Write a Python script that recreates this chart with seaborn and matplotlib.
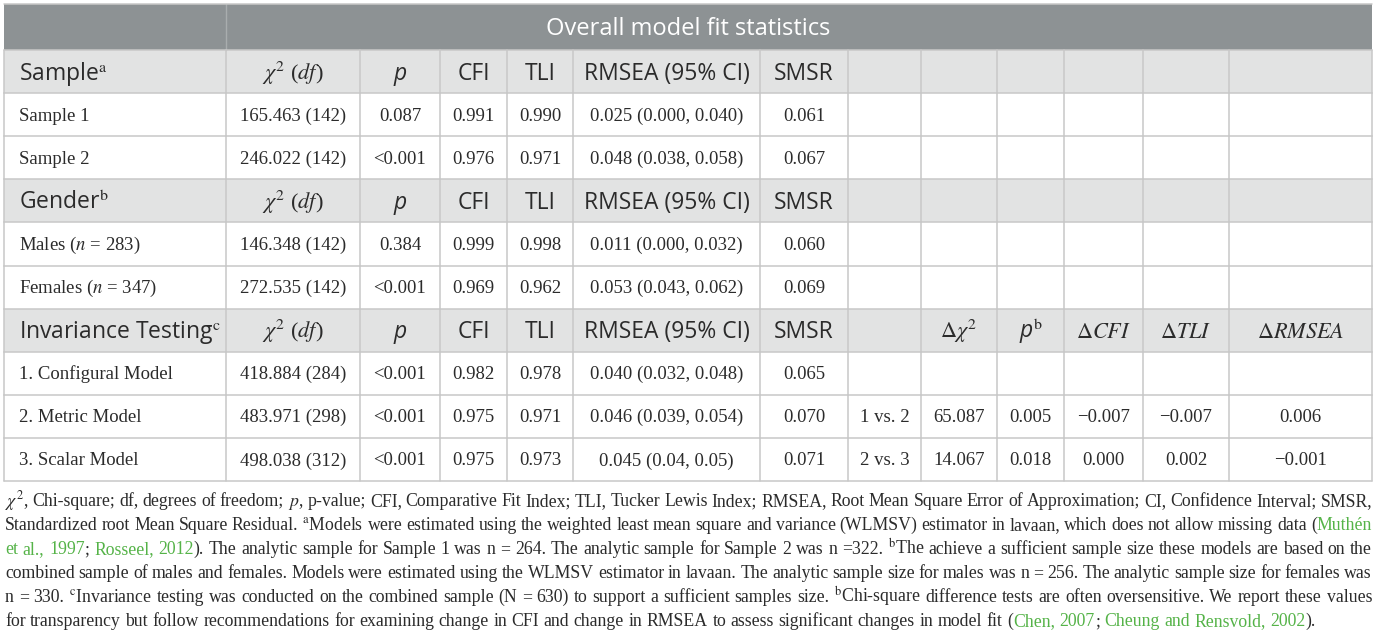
import matplotlib
matplotlib.use("Agg")
import matplotlib.pyplot as plt
import seaborn as sns
from matplotlib.patches import Rectangle

sns.set_theme(style="white")
plt.rcParams["font.family"] = ["Liberation Serif", "DejaVu Serif"]
plt.rcParams["mathtext.fontset"] = "stix"

# ---- table content ----
title = "Overall model fit statistics"
sections = ["Sample", "Gender", "Invariance Testing"]
section_marks = ["a", "b", "c"]
section_sizes = [2, 2, 3]

header_cols = ["$\\chi^2$ ($df$)", "p", "CFI", "TLI", "RMSEA (95% CI)", "SMSR"]
diff_cols = ["", "$\\Delta\\chi^2$", "p", "$\\Delta CFI$", "$\\Delta TLI$", "$\\Delta RMSEA$"]

row_labels = ["Sample 1", "Sample 2", "Males ($n$ = 283)", "Females ($n$ = 347)",
              "1. Configural Model", "2. Metric Model", "3. Scalar Model"]
chi2_df = ["165.463 (142)", "246.022 (142)", "146.348 (142)", "272.535 (142)",
           "418.884 (284)", "483.971 (298)", "498.038 (312)"]
p_vals = ["0.087", "<0.001", "0.384", "<0.001", "<0.001", "<0.001", "<0.001"]
cfi = ["0.991", "0.976", "0.999", "0.969", "0.982", "0.975", "0.975"]
tli = ["0.990", "0.971", "0.998", "0.962", "0.978", "0.971", "0.973"]
rmsea = ["0.025 (0.000, 0.040)", "0.048 (0.038, 0.058)", "0.011 (0.000, 0.032)",
         "0.053 (0.043, 0.062)", "0.040 (0.032, 0.048)", "0.046 (0.039, 0.054)",
         "0.045 (0.04, 0.05)"]
smsr = ["0.061", "0.067", "0.060", "0.069", "0.065", "0.070", "0.071"]
comparison = ["", "", "", "", "", "1 vs. 2", "2 vs. 3"]
delta_chi2 = ["", "", "", "", "", "65.087", "14.067"]
p_diff = ["", "", "", "", "", "0.005", "0.018"]
delta_cfi = ["", "", "", "", "", "\u22120.007", "0.000"]
delta_tli = ["", "", "", "", "", "\u22120.007", "0.002"]
delta_rmsea = ["", "", "", "", "", "0.006", "\u22120.001"]

GREEN = "#55b348"
footnote = [
    [("$\\chi^2$, Chi-square; df, degrees of freedom; $p$, p-value; CFI, Comparative Fit Index; TLI, "
      "Tucker Lewis Index; RMSEA, Root Mean Square Error of Approximation; CI, Confidence Interval; SMSR,", None)],
    [("Standardized root Mean Square Residual. $^{\\mathrm{a}}$Models were estimated using the weighted least "
      "mean square and variance (WLMSV) estimator in lavaan, which does not allow missing data (", None),
     ("Muth\u00e9n", GREEN)],
    [("et al., 1997", GREEN), ("; ", None), ("Rosseel, 2012", GREEN),
     ("). The analytic sample for Sample 1 was n = 264. The analytic sample for Sample 2 was n =322. "
      "$^{\\mathrm{b}}$The achieve a sufficient sample size these models are based on the", None)],
    [("combined sample of males and females. Models were estimated using the WLMSV estimator in lavaan. "
      "The analytic sample size for males was n = 256. The analytic sample size for females was", None)],
    [("n = 330. $^{\\mathrm{c}}$Invariance testing was conducted on the combined sample (N = 630) to support "
      "a sufficient samples size. $^{\\mathrm{b}}$Chi-square difference tests are often oversensitive. "
      "We report these values", None)],
    [("for transparency but follow recommendations for examining change in CFI and change in RMSEA to "
      "assess significant changes in model fit (", None), ("Chen, 2007", GREEN), ("; ", None),
     ("Cheung and Rensvold, 2002", GREEN), (").", None)],
]

# ---- layout / style ----
W, H = 1377, 638
col_edges = [4, 226, 360, 440, 507, 573, 760, 848, 921, 997, 1064, 1143, 1229, 1372]
title_top, title_bot, table_bot = 4, 50, 481
TITLE_BG = "#8d9294"
HEAD_BG = "#e2e3e3"
LINE = "#c8c8c8"
TXT = "#2b2b2b"
SANS = ["Open Sans", "DejaVu Sans"]
SERIF = ["Liberation Serif", "DejaVu Serif"]
HEAD_FS = 16.5
BODY_FS = 13.5

fig = plt.figure(figsize=(W / 100, H / 100), dpi=100)
ax = fig.add_axes([0, 0, 1, 1])
ax.set_xlim(0, W)
ax.set_ylim(H, 0)
ax.axis("off")
renderer = fig.canvas.get_renderer()


def text_width(s, **kw):
    t = ax.text(0, 0, s, **kw)
    w = t.get_window_extent(renderer).width
    t.remove()
    return w


# row structure: header rows and body rows
rows = []
k = 0
for name, mark, n in zip(sections, section_marks, section_sizes):
    rows.append(("head", name, mark))
    for _ in range(n):
        rows.append(("body", k, None))
        k += 1
row_h = (table_bot - title_bot) / len(rows)

# title row
ax.add_patch(Rectangle((col_edges[0], title_top), col_edges[-1] - col_edges[0],
                       title_bot - title_top, color=TITLE_BG, lw=0))
ax.plot([col_edges[1], col_edges[1]], [title_top, title_bot], color="#a9adae", lw=1)
ax.text((col_edges[0] + col_edges[-1]) / 2, title_bot - 15, title, ha="center",
        va="baseline", family=SANS, fontsize=17, color="white")

centers = [(a + b) / 2 for a, b in zip(col_edges[:-1], col_edges[1:])]
body_cols = [chi2_df, p_vals, cfi, tli, rmsea, smsr, comparison, delta_chi2,
             p_diff, delta_cfi, delta_tli, delta_rmsea]

for i, (kind, a, b) in enumerate(rows):
    y0 = title_bot + i * row_h
    yc = y0 + row_h / 2
    if kind == "head":
        ax.add_patch(Rectangle((col_edges[0], y0), col_edges[-1] - col_edges[0], row_h,
                               color=HEAD_BG, lw=0))
        ax.text(19, yc + 8, a + "$^{\\mathrm{%s}}$" % b, ha="left", va="baseline",
                family=SANS, fontsize=HEAD_FS, color=TXT)
        heads = header_cols + (diff_cols if a == "Invariance Testing" else [""] * 6)
        for j, h in enumerate(heads):
            if not h:
                continue
            if h == "p":
                s = "p" + ("$^{\\mathrm{b}}$" if j > 6 else "")
                ax.text(centers[j + 1], yc + 8, s, ha="center", va="baseline",
                        family=SANS, style="italic", fontsize=HEAD_FS, color=TXT)
            elif h.startswith("$"):
                ax.text(centers[j + 1], yc + 8, h, ha="center", va="baseline",
                        family=SERIF, fontsize=16, color=TXT)
            else:
                ax.text(centers[j + 1], yc + 8, h, ha="center", va="baseline",
                        family=SANS, fontsize=HEAD_FS, color=TXT)
    else:
        ax.text(19, yc + 6, row_labels[a], ha="left", va="baseline",
                family=SERIF, fontsize=BODY_FS, color=TXT)
        for j, col in enumerate(body_cols):
            if col[a]:
                ax.text(centers[j + 1], yc + 6, col[a], ha="center", va="baseline",
                        family=SERIF, fontsize=BODY_FS, color=TXT)
    # grid lines
    ax.plot([col_edges[0], col_edges[-1]], [y0, y0], color=LINE, lw=1.1)
    for x in col_edges:
        ax.plot([x, x], [y0, y0 + row_h], color=LINE, lw=1.1)
ax.plot([col_edges[0], col_edges[-1]], [table_bot, table_bot], color=LINE, lw=1.1)
ax.plot([col_edges[0], col_edges[-1]], [title_top, title_top], color=LINE, lw=1.1)

# ---- footnote, justified ----
fn_left, fn_right = 5, 1372
line_words = []
for segs in footnote:
    words = [[]]
    for txt, col in segs:
        parts = txt.split(" ")
        for m, p in enumerate(parts):
            if m > 0:
                words.append([])
            if p:
                words[-1].append((p, col or TXT))
    line_words.append([w for w in words if w])


def measure(size):
    sp = text_width("x x", fontsize=size, family=SERIF) - text_width("xx", fontsize=size, family=SERIF)
    out = []
    for words in line_words:
        out.append([[(p, c, text_width(p, fontsize=size, family=SERIF)) for p, c in w]
                    for w in words])
    return sp, out


fn_size = 13.2
space_w, measured = measure(fn_size)
natural = max(sum(pw for w in ws for _, _, pw in w) + space_w * 0.85 * (len(ws) - 1)
              for ws in measured[:-1])
fn_size = fn_size * (fn_right - fn_left) / natural
space_w, measured = measure(fn_size)

for li, ws in enumerate(measured):
    yb = 506 + li * 24
    widths = [sum(pw for _, _, pw in w) for w in ws]
    if li < len(measured) - 1:
        gap = (fn_right - fn_left - sum(widths)) / (len(ws) - 1)
    else:
        gap = space_w
    x = fn_left
    for w, ww in zip(ws, widths):
        px = x
        for p, c, pw in w:
            ax.text(px, yb, p, ha="left", va="baseline", family=SERIF,
                    fontsize=fn_size, color=c)
            px += pw
        x += ww + gap

fig.savefig("out.png", dpi=100, facecolor="white")
